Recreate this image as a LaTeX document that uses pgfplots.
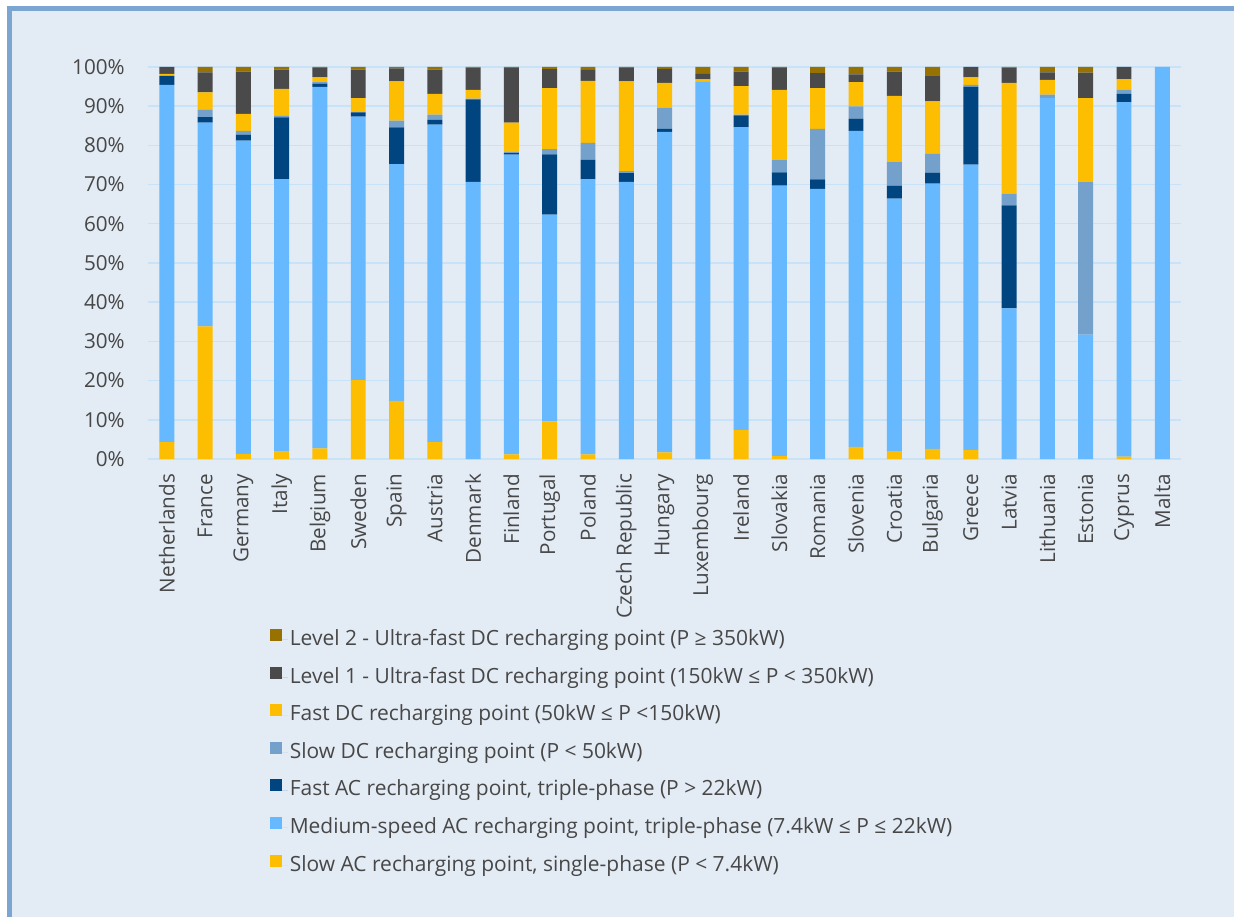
\documentclass[border=0pt]{standalone}
\usepackage{fontspec}
\setmainfont{Open Sans}
\usepackage{pgfplots}
\usepackage{pgfplotstable}
\pgfplotsset{compat=1.18}
\definecolor{cSlowAC}{HTML}{FDBD00}
\definecolor{cMed}{HTML}{66B8FF}
\definecolor{cFastAC}{HTML}{00457F}
\definecolor{cSlowDC}{HTML}{74A1CB}
\definecolor{cFastDC}{HTML}{FDBD00}
\definecolor{cL1}{HTML}{4A4A4A}
\definecolor{cL2}{HTML}{987200}
\definecolor{bgc}{HTML}{E3EBF5}
\definecolor{gridc}{HTML}{C8E2F8}
\definecolor{framec}{HTML}{7BA6D1}
\definecolor{txt}{HTML}{474747}
\pgfplotstableread{
idx slowAC medium fastAC slowDC fastDC Lone Ltwo
0  4.3  91.1  2.3  0    0.5  1.8  0
1  33.8 52.0  1.4  1.8  4.5  5.1  1.4
2  1.3  79.9  1.5  1.0  4.3  10.8 1.2
3  1.9  69.5  15.7 0.4  6.9  4.9  0.7
4  2.7  92.2  0.8  0.4  1.2  2.4  0.3
5  20.1 67.2  1.1  0.2  3.4  7.3  0.7
6  14.8 60.4  9.4  1.7  10.0 3.3  0.4
7  4.3  81.0  1.2  1.3  5.3  6.2  0.7
8  0    70.7  21.0 0.2  2.2  5.7  0.2
9  1.2  76.4  0.4  0.4  7.4  13.9 0.3
10 9.6  52.7  15.4 1.3  15.6 4.8  0.6
11 1.2  70.2  4.9  4.3  15.8 2.8  0.8
12 0    70.7  2.2  0.5  22.9 3.4  0.3
13 1.7  81.7  0.8  5.4  6.3  3.6  0.5
14 0    96.2  0    0    0.6  1.4  1.8
15 7.4  77.2  3.0  0.2  7.3  3.7  1.2
16 0.8  68.9  3.4  3.1  17.9 5.6  0.3
17 0    68.9  2.4  12.9 10.4 3.8  1.6
18 3.1  80.6  3.1  3.1  6.2  2.0  1.9
19 2.0  64.4  3.3  6.0  16.9 6.2  1.2
20 2.6  67.6  2.8  4.8  13.4 6.6  2.2
21 2.3  72.8  19.8 0.5  1.9  2.7  0
22 0    38.4  26.3 3.0  28.2 3.9  0.2
23 0    92.0  0    0.9  3.8  1.9  1.4
24 0    31.7  0    38.9 21.4 6.5  1.5
25 0.6  90.4  2.1  1.1  2.7  3.1  0
26 0    100   0    0    0    0    0
}\datatable
\begin{document}
\begin{tikzpicture}
% background and frame (1px = 0.5pt)
\fill[white] (-74pt,-229.5pt) rectangle (544.5pt,230pt);
\fill[bgc] (-69.1pt,-229.5pt) rectangle (544.5pt,225.75pt);
\draw[framec, line width=2.7pt] (-69.1pt,-229.5pt) -- (-69.1pt,225.75pt) -- (544.5pt,225.75pt);
\begin{axis}[
  scale only axis,
  width=518pt, height=196.5pt,
  ybar stacked,
  bar width=7.5pt,
  xmin=-0.5, xmax=26.5,
  ymin=0, ymax=100,
  xtick=data,
  xticklabels={Netherlands,France,Germany,Italy,Belgium,Sweden,Spain,Austria,Denmark,Finland,Portugal,Poland,Czech Republic,Hungary,Luxembourg,Ireland,Slovakia,Romania,Slovenia,Croatia,Bulgaria,Greece,Latvia,Lithuania,Estonia,Cyprus,Malta},
  ytick={0,10,...,100},
  yticklabels={0\%,10\%,20\%,30\%,40\%,50\%,60\%,70\%,80\%,90\%,100\%},
  major tick length=0pt,
  axis line style={draw=none},
  ymajorgrids,
  grid style={gridc, line width=0.75pt},
  every tick label/.append style={font=\fontsize{10.35pt}{12pt}\selectfont, text=txt},
  yticklabel style={xshift=-8pt},
  xticklabel style={rotate=90, anchor=east, xshift=-4pt},
  legend style={at={(0.1178,-0.431)}, anchor=north west, draw=none, fill=none,
    inner sep=0pt, row sep=7.35pt,
    font=\fontsize{10.5pt}{12pt}\selectfont, text=txt,
    nodes={inner sep=1pt, text height=7.5pt, text depth=2pt}},
  legend cell align=left,
  reverse legend,
  legend image code/.code={\fill[#1] (0pt,-0.5pt) rectangle (6pt,5.5pt); \path (0pt,0pt) -- (9pt,0pt);},
]
\addplot[fill=cSlowAC, draw=none] table[x=idx, y=slowAC] {\datatable};
\addplot[fill=cMed, draw=none] table[x=idx, y=medium] {\datatable};
\addplot[fill=cFastAC, draw=none] table[x=idx, y=fastAC] {\datatable};
\addplot[fill=cSlowDC, draw=none] table[x=idx, y=slowDC] {\datatable};
\addplot[fill=cFastDC, draw=none] table[x=idx, y=fastDC] {\datatable};
\addplot[fill=cL1, draw=none] table[x=idx, y=Lone] {\datatable};
\addplot[fill=cL2, draw=none] table[x=idx, y=Ltwo] {\datatable};
\legend{{Slow AC recharging point, single-phase (P < 7.4kW)},
  {Medium-speed AC recharging point, triple-phase (7.4kW ≤ P ≤ 22kW)},
  {Fast AC recharging point, triple-phase (P > 22kW)},
  {Slow DC recharging point (P < 50kW)},
  {Fast DC recharging point (50kW ≤ P <150kW)},
  {Level 1 - Ultra-fast DC recharging point (150kW ≤ P < 350kW)},
  {Level 2 - Ultra-fast DC recharging point (P ≥ 350kW)}}
\end{axis}
\end{tikzpicture}
\end{document}
